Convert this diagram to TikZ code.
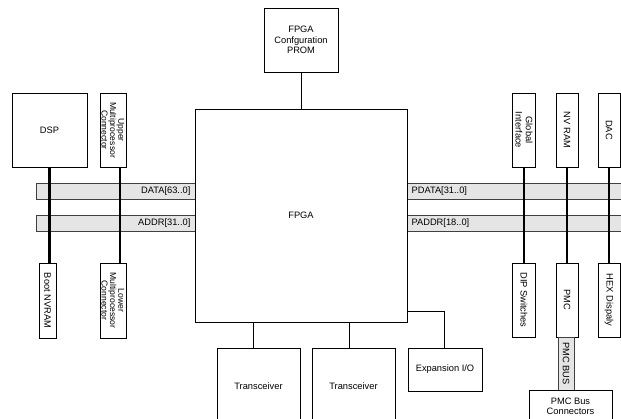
\documentclass[tikz,border=0pt]{standalone}
\usepackage{fontspec}
\setmainfont{Liberation Sans}
\begin{document}
\begin{tikzpicture}[x=1pt,y=-1pt,
  font=\fontsize{9.3}{10.3}\selectfont,
  blk/.style={draw=black, line width=0.8pt, fill=white, inner sep=0pt},
  busbar/.style={draw=black!75, line width=0.9pt, fill=black!10, inner sep=0pt},
  rtext/.style={rotate=-90, align=center, inner sep=0pt},
  tight/.style={font=\fontsize{8.6}{8.4}\selectfont},
  wire/.style={draw=black, line width=0.8pt},
  thick bus/.style={draw=black, line width=2.6pt}]

\useasboundingbox (0,0) rectangle (621,419);
\clip (0,0) rectangle (621,419);

% shared buses
\node[busbar, minimum width=159, minimum height=16] (data)  at (115.5,191) {};
\node[busbar, minimum width=159, minimum height=16] (addr)  at (115.5,223) {};
\node[busbar, minimum width=220, minimum height=16] (pdata) at (517,191) {};
\node[busbar, minimum width=220, minimum height=16] (paddr) at (517,223) {};
\node[anchor=east] (datalbl)  at ([xshift=-1.5]data.east)  {DATA[63..0]};
\node[anchor=east] (addrlbl)  at ([xshift=-1.5]addr.east)  {ADDR[31..0]};
\node[anchor=west] (pdatalbl) at ([xshift=1.5]pdata.west)  {PDATA[31..0]};
\node[anchor=west] (paddrlbl) at ([xshift=1.5]paddr.west)  {PADDR[18..0]};

% central device and its configuration memory
\node[blk, minimum width=212, minimum height=213] (fpga) at (301,215.5) {FPGA};
\node[blk, minimum width=74, minimum height=64, align=center] (prom) at (301,40)
  {FPGA\\Confguration\\PROM};

% left side
\node[blk, minimum width=75, minimum height=74] (dsp) at (49.5,130) {DSP};
\node[blk, minimum width=26, minimum height=74] (upper) at (113,130) {};
\node[rtext, tight] (upperlbl) at (upper) {Upper\\Multiprocessor\\Connector};
\node[blk, minimum width=17, minimum height=75] (boot) at (47.5,300.5) {};
\node[rtext] (bootlbl) at (boot) {Boot NVRAM};
\node[blk, minimum width=26, minimum height=75] (lower) at (113,300.5) {};
\node[rtext, tight] (lowerlbl) at (lower) {Lower\\Multiprocessor\\Connector};

% right side
\node[blk, minimum width=23, minimum height=74] (gint) at (524,130) {};
\node[rtext] (gintlbl) at (gint) {Global\\Interface};
\node[blk, minimum width=22, minimum height=74] (nvram) at (567,130) {};
\node[rtext] (nvramlbl) at (nvram) {NV RAM};
\node[blk, minimum width=22, minimum height=74] (dac) at (609,130) {};
\node[rtext] (daclbl) at (dac) {DAC};
\node[blk, minimum width=23, minimum height=74] (dip) at (524,300) {};
\node[rtext] (diplbl) at (dip) {DIP Switches};
\node[blk, minimum width=22, minimum height=74] (pmc) at (567,300) {};
\node[rtext] (pmclbl) at (pmc) {PMC};
\node[blk, minimum width=22, minimum height=74] (hex) at (609,300) {};
\node[rtext] (hexlbl) at (hex) {HEX Dispaly};

% PMC bus down to its connectors
\node[busbar, minimum width=16, minimum height=53] (pmcbus) at (566,363.5) {};
\node[rtext] (pmcbuslbl) at (pmcbus) {PMC BUS};
\node[blk, minimum width=83, minimum height=32, align=center] (pmcconn) at (570.5,406)
  {PMC Bus\\Connectors};

% bottom row
\node[blk, minimum width=83, minimum height=76] (trans1) at (258.5,386) {Transceiver};
\node[blk, minimum width=83, minimum height=76] (trans2) at (353.5,386) {Transceiver};
\node[blk, minimum width=74, minimum height=43] (exp) at (445,369.5) {Expansion I/O};

% thin connections
\coordinate (t1top) at (253,348);
\coordinate (t2top) at (349,348);
\coordinate (expknee) at (444,311);
\coordinate (mptap) at (120,0);
\draw[wire] (prom.south) -- (fpga.north);
\draw[wire] (fpga.south -| t1top) -- (t1top);
\draw[wire] (fpga.south -| t2top) -- (t2top);
\draw[wire] (fpga.east |- expknee) -- (expknee) -- (expknee |- exp.north);

% devices tapping the buses
\draw[thick bus] (dsp.south) -- (dsp.south |- boot.north);
\draw[thick bus] (upper.south -| mptap) -- (lower.north -| mptap);
\draw[thick bus] (gint.south) -- (dip.north);
\draw[thick bus] (nvram.south) -- (pmc.north);
\draw[thick bus] (dac.south) -- (hex.north);
\end{tikzpicture}
\end{document}
